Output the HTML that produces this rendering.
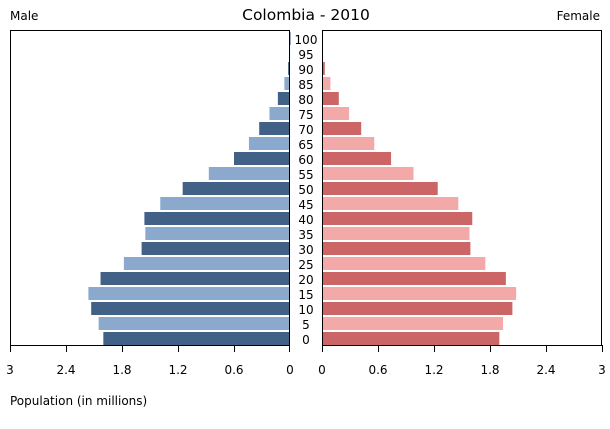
<!DOCTYPE html>
<html><head><meta charset="utf-8"><style>
body{margin:0;background:#fff;font-family:"DejaVu Sans","Liberation Sans",sans-serif;}
svg text{font-family:"DejaVu Sans","Liberation Sans",sans-serif;fill:#000;}
</style></head><body>
<svg id="chart" width="610" height="425" xmlns="http://www.w3.org/2000/svg">
<text x="306" y="20" font-size="15.5" text-anchor="middle">Colombia - 2010</text>
<text x="10" y="20" font-size="12">Male</text>
<text x="600" y="20" font-size="12" text-anchor="end">Female</text>
<text x="10" y="405" font-size="12">Population (in millions)</text>
<g id="bars"></g>
<rect x="10.5" y="30.5" width="279" height="315" fill="none" stroke="#000"/>
<rect x="322.5" y="30.5" width="279" height="315" fill="none" stroke="#000"/>
<g id="axes"></g>
</svg>
<script>
const ages=[0,5,10,15,20,25,30,35,40,45,50,55,60,65,70,75,80,85,90,95,100];
const male=[2.00,2.05,2.13,2.16,2.03,1.78,1.59,1.55,1.56,1.39,1.15,0.87,0.60,0.44,0.33,0.22,0.13,0.06,0.02,0.01,0.005];
const female=[1.90,1.94,2.04,2.08,1.97,1.75,1.59,1.58,1.61,1.46,1.24,0.98,0.74,0.56,0.42,0.29,0.18,0.09,0.03,0.01,0.005];
const ticks=[0,0.6,1.2,1.8,2.4,3];
const tickLabels=["0","0.6","1.2","1.8","2.4","3"];
const NS="http://www.w3.org/2000/svg";
const scale=280/3;
const xMale=v=>290-v*scale;
const xFemale=v=>322+v*scale;
const yRow=i=>345-(i+1)*15+2;
const bars=document.getElementById('bars');
const axes=document.getElementById('axes');
function mk(tag,attrs,parent){const e=document.createElementNS(NS,tag);for(const k in attrs)e.setAttribute(k,attrs[k]);parent.appendChild(e);return e;}
ages.forEach((a,i)=>{
  const y=yRow(i);
  const dark=i%2===0;
  const m=mk('rect',{x:xMale(male[i]),y:y,width:Math.max(male[i]*scale,1),height:13,fill:dark?'#426186':'#8aa9cc'},bars);
  
  
  const f=mk('rect',{x:322,y:y,width:Math.max(female[i]*scale,1),height:13,fill:dark?'#cc6666':'#f4a9a9'},bars);
  
  
  const t=mk('text',{x:306,y:y+12,'font-size':12,'text-anchor':'middle'},axes);
  t.textContent=a;
  
  
});
ticks.forEach((v,i)=>{
  [xMale(v),xFemale(v)].forEach((x,s)=>{
    const xx=Math.round(x)+0.5-(s===0&&v===0?1:0);
    const l=mk('line',{x1:xx,x2:xx,y1:345,y2:352,stroke:'#000'},axes);
    
    
    const t=mk('text',{x:x,y:374,'font-size':12,'text-anchor':'middle'},axes);
    t.textContent=tickLabels[i];
    
    
  });
});
</script>
</body></html>
